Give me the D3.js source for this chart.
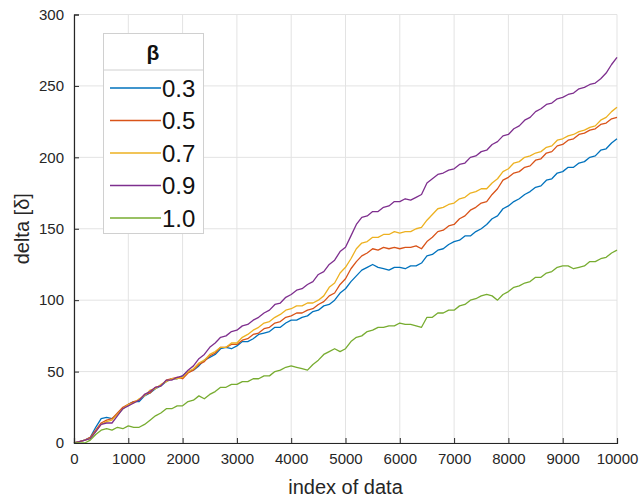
<!DOCTYPE html>
<html><head><meta charset="utf-8">
<script src="https://cdn.jsdelivr.net/npm/d3@7"></script>
<style>
html,body{margin:0;padding:0;background:#fff;}
svg{display:block;font-family:"Liberation Sans",Arial,Helvetica,sans-serif;}
</style></head>
<body><svg id="c" width="642" height="500"></svg>
<script>
const step = 100;
const xTicks = [0,1000,2000,3000,4000,5000,6000,7000,8000,9000,10000];
const yTicks = [0,50,100,150,200,250,300];
const seriesNames = ["0.3","0.5","0.7","0.9","1.0"];
const seriesColors = ["#0072BD","#D95319","#EDB120","#7E2F8E","#77AC30"];

const beta03 = [0,1,2,4,11,17,18,17,20,24,27,29,29,33,35,38,40,43,45,45,47,50,51,54,58,60,62,66,67,66,68,71,71,73,76,77,78,81,81,84,86,86,88,89,92,93,96,97,100,105,108,113,117,121,123,125,123,122,121,123,123,122,124,124,126,131,132,135,136,139,141,142,145,145,148,150,153,157,159,164,166,169,171,174,176,179,180,184,185,189,190,193,193,196,197,200,201,205,206,210,213];
const beta05 = [0,1,2,4,9,14,16,17,21,25,27,29,30,34,35,39,40,44,45,46,45,49,51,55,57,61,63,67,67,69,69,72,73,76,77,80,81,84,85,88,89,91,91,93,94,97,99,103,105,111,115,122,127,131,133,136,135,137,136,137,136,137,137,138,136,141,144,148,149,152,153,157,159,163,165,168,169,174,178,184,186,189,190,193,194,198,199,203,204,208,209,212,213,216,217,219,220,223,224,227,228];
const beta07 = [0,1,2,3,8,13,15,16,20,24,27,28,31,33,37,38,41,43,45,45,46,50,52,56,58,62,64,67,67,70,70,74,76,79,81,84,85,88,90,93,94,96,96,98,98,100,103,109,112,119,123,129,136,140,141,144,144,146,146,148,147,148,148,150,151,156,160,164,165,167,168,171,172,175,176,178,178,182,185,190,192,196,197,200,201,203,204,207,208,212,213,215,216,218,219,221,222,226,228,232,235];
const beta09 = [0,1,2,3,8,13,14,14,19,24,26,28,30,34,36,39,40,44,44,46,47,51,54,59,62,67,70,74,75,78,79,82,83,86,88,91,93,97,98,102,104,107,108,111,113,118,120,125,128,134,137,145,153,158,159,162,162,165,166,169,169,171,170,172,174,182,185,188,189,191,192,195,196,200,201,204,205,209,211,215,216,220,222,226,228,232,234,237,238,241,242,244,245,248,249,251,252,255,259,265,270];
const beta10 = [0,0,0,2,6,9,10,9,11,10,12,11,11,13,16,19,21,24,24,26,26,29,30,33,31,34,36,39,39,41,41,43,43,45,45,47,47,50,51,53,54,53,52,51,55,58,62,64,66,64,66,71,74,75,78,79,81,81,82,82,84,83,83,82,81,88,88,91,91,93,93,96,97,100,101,103,104,103,100,104,106,109,110,112,113,116,116,119,120,123,124,124,122,123,124,127,127,129,130,133,135];
const seriesValues = [beta03,beta05,beta07,beta09,beta10];

const svg = d3.select("#c");
const L = 74, R = 617, T = 14.5, B = 443;
const x = d3.scaleLinear().domain([0,10000]).range([L,R]);
const y = d3.scaleLinear().domain([0,300]).range([B,T]);
const ink = "#262626";

// grid
const g = svg.append("g");
g.selectAll(".gx").data(xTicks).join("line")
  .attr("x1",d=>x(d)).attr("x2",d=>x(d)).attr("y1",T).attr("y2",B)
  .attr("stroke","#e3e3e3").attr("stroke-width",1);
g.selectAll(".gy").data(yTicks).join("line")
  .attr("x1",L).attr("x2",R).attr("y1",d=>y(d)).attr("y2",d=>y(d))
  .attr("stroke","#e3e3e3").attr("stroke-width",1);

// lines
const line = d3.line().x((d,i)=>x(i*step)).y(d=>y(d));
seriesValues.forEach((vals,k)=>{
  svg.append("path").datum(vals).attr("d",line)
    .attr("fill","none").attr("stroke",seriesColors[k])
    .attr("stroke-width",1.3).attr("stroke-linejoin","round");
});

// axes
const xa = svg.append("g").attr("transform",`translate(0,${B})`)
  .call(d3.axisBottom(x).tickValues(xTicks).tickSize(-5).tickPadding(10).tickFormat(d3.format("d")));
const ya = svg.append("g").attr("transform",`translate(${L},0)`)
  .call(d3.axisLeft(y).tickValues(yTicks).tickSize(-5).tickPadding(10));
[xa,ya].forEach(a=>{
  a.select(".domain").attr("stroke",ink).attr("stroke-width",1.2);
  a.selectAll(".tick line").attr("stroke",ink);
  a.selectAll(".tick text").attr("fill",ink).style("font-size","15px")
   .style("font-family",'"Liberation Sans",Arial,sans-serif');
});

svg.append("text").attr("x",(L+R)/2).attr("y",494).attr("text-anchor","middle")
  .attr("fill",ink).style("font-size","20px").text("index of data");
svg.append("text").attr("transform",`translate(29,${(T+B)/2}) rotate(-90)`)
  .attr("text-anchor","middle").attr("fill",ink).style("font-size","20px").text("delta [δ]");

// legend
const lg = svg.append("g");
lg.append("rect").attr("x",103.5).attr("y",33.5).attr("width",100).attr("height",200)
  .attr("fill","#fff").attr("stroke","#d0d0d0");
lg.append("line").attr("x1",103.5).attr("x2",203.5).attr("y1",70).attr("y2",70).attr("stroke","#d0d0d0");
lg.append("text").attr("x",153).attr("y",60).attr("text-anchor","middle")
  .attr("fill","#111").style("font-size","21px").style("font-weight","bold").text("β");
seriesNames.forEach((n,k)=>{
  const yy = 88 + k*32.5;
  lg.append("line").attr("x1",110).attr("x2",161).attr("y1",yy).attr("y2",yy)
    .attr("stroke",seriesColors[k]).attr("stroke-width",1.3);
  lg.append("text").attr("x",162).attr("y",yy+8.5).attr("fill","#111")
    .style("font-size","24px").text(n);
});
</script></body></html>
